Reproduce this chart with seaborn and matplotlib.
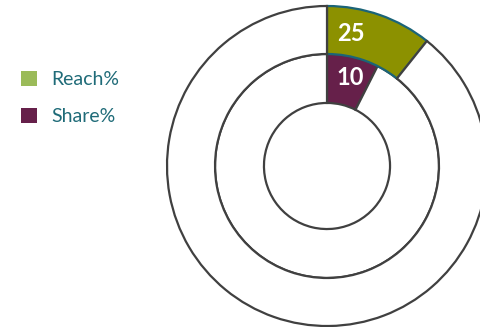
import matplotlib
matplotlib.use("Agg")
import matplotlib.pyplot as plt
from matplotlib.patches import Patch
import numpy as np
import seaborn as sns

sns.set_theme(style="white")
plt.rcParams["font.family"] = ["Lato", "DejaVu Sans"]

# Ring data: highlighted value followed by the remainder of each ring
series = ["Reach%", "Share%"]
reach_values = [25, 208]
share_values = [10, 124]

reach_color = "#8c9100"
share_color = "#66204a"
reach_legend_color = "#9bbb59"
edge_gray = "#404040"
outline_teal = "#1b6478"
legend_text = "#1f6b78"

W, H = 481, 327
fig = plt.figure(figsize=(W / 100, H / 100), dpi=100)
fig.patch.set_facecolor("white")

cx, cy, r = 327, 161, 160
ax = fig.add_axes([(cx - r) / W, (cy - r) / H, 2 * r / W, 2 * r / H])
ax.set_xlim(-1, 1)
ax.set_ylim(-1, 1)
ax.set_aspect("equal")
ax.axis("off")

outer_r = 1.0
mid_r = 0.70
hole_r = 0.394

# inner ring first so the outer ring's outline sits on top
inner_wedges, _ = ax.pie(
    share_values, radius=mid_r, startangle=90, counterclock=False,
    colors=[share_color, "white"],
    wedgeprops=dict(width=mid_r - hole_r, edgecolor=edge_gray, linewidth=1.6),
)
outer_wedges, _ = ax.pie(
    reach_values, radius=outer_r, startangle=90, counterclock=False,
    colors=[reach_color, "white"],
    wedgeprops=dict(width=outer_r - mid_r, edgecolor=edge_gray, linewidth=1.6),
)
outer_wedges[0].set_edgecolor(outline_teal)
for w in list(inner_wedges) + list(outer_wedges):
    w.set_clip_on(False)
ax.set_xlim(-1, 1)
ax.set_ylim(-1, 1)

# value labels inside the highlighted segments
def label_pos(values, r_in, r_out, frac_angle=0.5, frac_r=0.5):
    ang = np.deg2rad(90 - 360 * values[0] / sum(values) * frac_angle)
    rr = r_in + (r_out - r_in) * frac_r
    return rr * np.cos(ang), rr * np.sin(ang)

x, y = label_pos(reach_values, mid_r, outer_r, 0.26, 0.48)
ax.text(x, y, str(reach_values[0]), color="white", fontsize=17,
        fontweight="bold", ha="center", va="center")
x, y = label_pos(share_values, hole_r, mid_r, 0.55, 0.58)
ax.text(x, y, str(share_values[0]), color="white", fontsize=17,
        fontweight="bold", ha="center", va="center")

handles = [Patch(facecolor=reach_legend_color, edgecolor="none"),
           Patch(facecolor=share_color, edgecolor="none")]
fig.legend(handles, series, loc="upper left", bbox_to_anchor=(0.044, 0.783),
           frameon=False, fontsize=14, handlelength=0.82, handleheight=0.82,
           handletextpad=0.75, labelspacing=1.0, labelcolor=legend_text,
           borderaxespad=0, borderpad=0)

fig.savefig("out.png", dpi=100)
